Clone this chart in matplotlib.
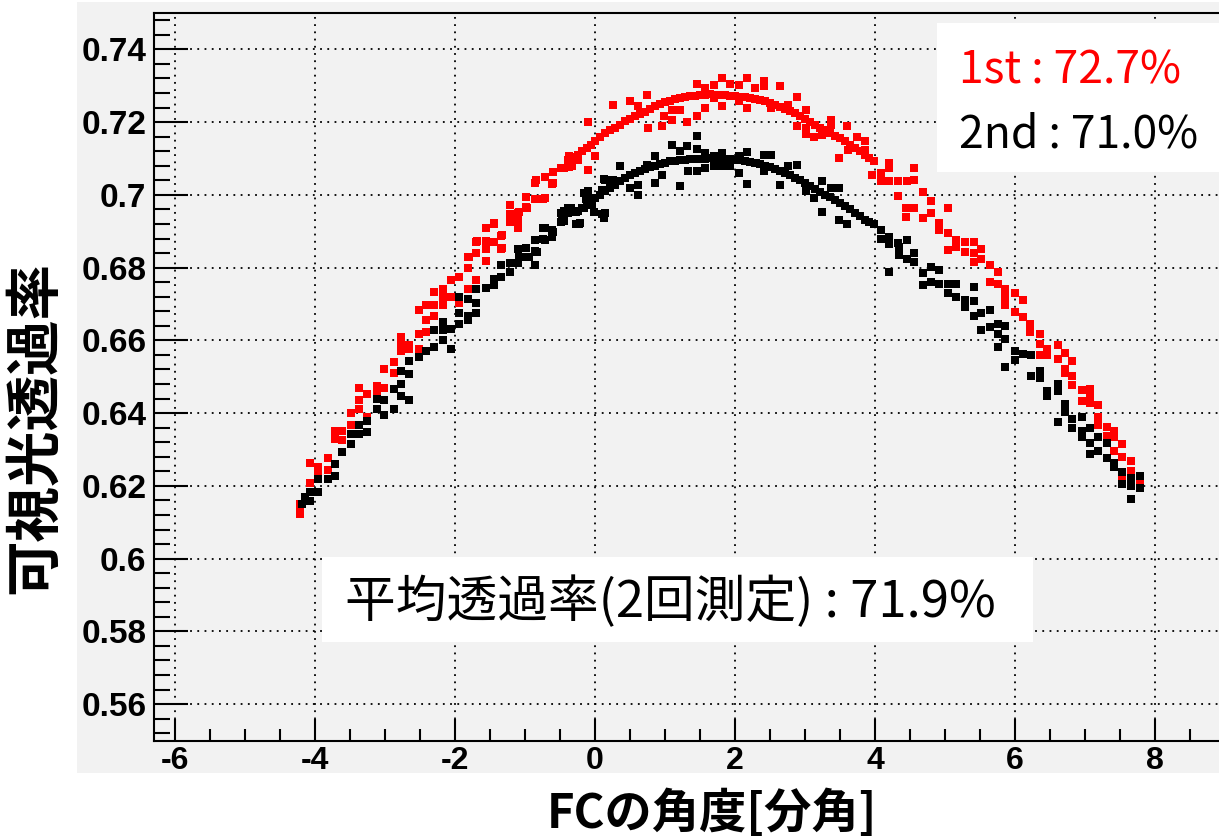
import matplotlib
matplotlib.use("Agg")
import matplotlib.pyplot as plt
from matplotlib.patches import Rectangle
from matplotlib.ticker import MultipleLocator, FixedLocator

# ---------------- data ----------------
# 1st measurement (red): (angle [arcmin], transmittance)
red_left = [
    (-4.21, 0.6151), (-4.21, 0.6144), (-4.21, 0.6123), (-4.07, 0.6263), (-4.07, 0.6209),
    (-3.96, 0.6251), (-3.96, 0.6232), (-3.82, 0.6276), (-3.82, 0.6243),
    (-3.72, 0.6352), (-3.72, 0.6329), (-3.61, 0.6352), (-3.61, 0.6326),
    (-3.48, 0.6400), (-3.48, 0.6368), (-3.37, 0.6469), (-3.37, 0.6437), (-3.37, 0.6411),
    (-3.26, 0.6453), (-3.26, 0.6390), (-3.12, 0.6474), (-3.12, 0.6457),
    (-3.01, 0.6469), (-3.01, 0.6522), (-2.87, 0.6540), (-2.87, 0.6510),
    (-2.77, 0.6609), (-2.77, 0.6591), (-2.77, 0.6570), (-2.66, 0.6586), (-2.66, 0.6575),
    (-2.52, 0.6618), (-2.52, 0.6575), (-2.52, 0.6683),
    (-2.41, 0.6623), (-2.41, 0.6655), (-2.41, 0.6697),
    (-2.30, 0.6697), (-2.30, 0.6733), (-2.30, 0.6666),
    (-2.17, 0.6740), (-2.17, 0.6718), (-2.17, 0.6697), (-2.06, 0.6766), (-2.06, 0.6718),
    (-1.95, 0.6775), (-1.95, 0.6703), (-1.81, 0.6830), (-1.81, 0.6798), (-1.81, 0.6740),
    (-1.70, 0.6871), (-1.70, 0.6841), (-1.70, 0.6766),
    (-1.56, 0.6908), (-1.56, 0.6850), (-1.56, 0.6819), (-1.45, 0.6920), (-1.45, 0.6871),
    (-1.35, 0.6887), (-1.35, 0.6850), (-1.22, 0.6972), (-1.22, 0.6947), (-1.22, 0.6926),
    (-1.10, 0.6951), (-1.10, 0.6931), (-1.10, 0.6908), (-0.99, 0.6994), (-0.99, 0.6968),
    (-0.86, 0.7032), (-0.86, 0.6988), (-0.74, 0.6988), (-0.61, 0.7030),
    (-0.37, 0.7106), (-0.37, 0.7078), (-0.25, 0.7110), (-0.25, 0.7096), (-0.49, 0.7073),
    (-0.60, 0.7064), (-0.60, 0.7032), (-0.72, 0.7050), (-0.72, 0.6991), (-0.84, 0.7041),
    (-0.97, 0.6963), (-1.09, 0.6954), (-1.21, 0.6945), (-1.33, 0.6890), (-1.33, 0.6853),
    (-1.44, 0.6922), (-1.56, 0.6872), (-1.69, 0.6872), (-1.80, 0.6830),
]
red_band = [
    (-0.38, 0.7097), (-0.31, 0.7104), (-0.24, 0.7110), (-0.18, 0.7120), (-0.12, 0.7129),
    (-0.06, 0.7138), (0.00, 0.7147), (0.07, 0.7159), (0.14, 0.7170), (0.21, 0.7177),
    (0.29, 0.7184), (0.36, 0.7193), (0.43, 0.7202), (0.50, 0.7209), (0.57, 0.7216),
    (0.64, 0.7222), (0.71, 0.7229), (0.78, 0.7236), (0.86, 0.7243), (0.93, 0.7249),
    (1.00, 0.7254), (1.07, 0.7259), (1.14, 0.7263), (1.21, 0.7267), (1.29, 0.7270),
    (1.36, 0.7271), (1.43, 0.7272), (1.50, 0.7274), (1.57, 0.7275), (1.64, 0.7276),
    (1.71, 0.7275), (1.78, 0.7275), (1.86, 0.7274), (1.93, 0.7273), (2.00, 0.7272),
    (2.07, 0.7270), (2.14, 0.7268), (2.21, 0.7266), (2.29, 0.7263), (2.36, 0.7260),
    (2.43, 0.7257), (2.50, 0.7252), (2.57, 0.7247), (2.64, 0.7242), (2.71, 0.7236),
    (2.78, 0.7231), (2.86, 0.7225), (2.93, 0.7217), (3.00, 0.7208), (3.07, 0.7201),
    (3.14, 0.7193), (3.21, 0.7185), (3.29, 0.7177), (3.36, 0.7170), (3.43, 0.7163),
    (3.50, 0.7155), (3.57, 0.7147), (3.64, 0.7138), (3.71, 0.7129), (3.78, 0.7120),
    (3.86, 0.7110), (3.92, 0.7101), (3.98, 0.7092),
]
red_scatter = [
    (-0.33, 0.7101), (-0.33, 0.7079), (-0.45, 0.7074), (-0.10, 0.7069), (-0.10, 0.7200),
    (0.00, 0.7106), (0.25, 0.7247), (0.50, 0.7257), (0.61, 0.7243), (0.74, 0.7275),
    (0.75, 0.7184), (0.95, 0.7188), (0.98, 0.7216), (1.10, 0.7206), (1.10, 0.7234),
    (1.21, 0.7234), (1.32, 0.7200), (1.45, 0.7305), (1.46, 0.7217), (1.57, 0.7293),
    (1.57, 0.7238), (1.70, 0.7302), (1.70, 0.7266), (1.81, 0.7320), (1.82, 0.7243),
    (1.93, 0.7305), (2.05, 0.7302), (2.05, 0.7257), (2.17, 0.7320), (2.17, 0.7238),
    (2.29, 0.7293), (2.41, 0.7314), (2.41, 0.7298), (2.52, 0.7238), (2.64, 0.7300),
    (2.76, 0.7247), (2.88, 0.7268), (2.88, 0.7190), (3.02, 0.7234), (3.02, 0.7184),
    (3.02, 0.7168), (3.13, 0.7158), (3.24, 0.7164), (3.37, 0.7206), (3.37, 0.7193),
    (3.49, 0.7101), (3.60, 0.7190), (3.61, 0.7124), (3.74, 0.7159), (3.85, 0.7147),
    (3.85, 0.7122), (3.95, 0.7056), (4.09, 0.7060), (4.20, 0.7088), (4.20, 0.7074),
    (4.09, 0.7037), (4.20, 0.7037), (4.33, 0.7037), (4.33, 0.6996),
]
red_right = [
    (3.95, 0.7055), (4.20, 0.7083), (4.45, 0.7037), (4.56, 0.7074), (4.56, 0.7041),
    (4.69, 0.7009), (4.44, 0.6963), (4.56, 0.6963), (4.44, 0.6940), (4.69, 0.6936),
    (4.80, 0.6982), (4.80, 0.6949), (4.91, 0.6922), (4.91, 0.6903), (5.04, 0.6963),
    (5.04, 0.6894), (5.04, 0.6848), (5.16, 0.6876), (5.16, 0.6857), (5.29, 0.6871),
    (5.29, 0.6844), (5.41, 0.6871), (5.41, 0.6841), (5.51, 0.6850), (5.41, 0.6816),
    (5.51, 0.6823), (5.64, 0.6807), (5.64, 0.6761), (5.75, 0.6789), (5.75, 0.6756),
    (5.86, 0.6740), (5.86, 0.6720), (5.86, 0.6697), (6.00, 0.6729), (6.00, 0.6678),
    (6.11, 0.6712), (6.12, 0.6664), (6.22, 0.6644), (6.22, 0.6623), (6.36, 0.6618),
    (6.36, 0.6591), (6.36, 0.6559), (6.46, 0.6577), (6.46, 0.6559), (6.61, 0.6586),
    (6.61, 0.6550), (6.71, 0.6565), (6.82, 0.6543), (6.71, 0.6522), (6.71, 0.6510),
    (6.82, 0.6501), (6.82, 0.6476), (6.95, 0.6464), (6.95, 0.6433), (7.07, 0.6467),
    (7.07, 0.6448), (7.07, 0.6427), (7.18, 0.6421), (7.18, 0.6390), (7.18, 0.6368),
    (7.31, 0.6361), (7.31, 0.6338), (7.42, 0.6350), (7.42, 0.6335), (7.42, 0.6295),
    (7.53, 0.6315), (7.53, 0.6280), (7.53, 0.6228), (7.66, 0.6269), (7.66, 0.6241),
    (7.78, 0.6223), (7.78, 0.6205),
]

# 2nd measurement (black)
black_left = [
    (-4.14, 0.6170), (-4.19, 0.6150), (-4.07, 0.6182), (-4.07, 0.6159), (-3.96, 0.6218),
    (-3.96, 0.6182), (-3.82, 0.6218), (-3.72, 0.6260), (-3.72, 0.6228), (-3.61, 0.6292),
    (-3.48, 0.6343), (-3.48, 0.6315), (-3.37, 0.6366), (-3.37, 0.6343), (-3.26, 0.6379),
    (-3.26, 0.6347), (-3.12, 0.6439), (-3.12, 0.6411), (-3.01, 0.6435), (-3.01, 0.6395),
    (-2.87, 0.6467), (-2.87, 0.6410), (-2.77, 0.6480), (-2.77, 0.6448), (-2.66, 0.6508),
    (-2.66, 0.6437), (-2.77, 0.6517), (-2.66, 0.6543), (-2.52, 0.6554), (-2.41, 0.6571),
    (-2.30, 0.6582), (-2.30, 0.6628), (-2.17, 0.6628), (-2.17, 0.6602), (-2.17, 0.6651),
    (-2.06, 0.6632), (-2.06, 0.6577), (-1.95, 0.6720), (-1.95, 0.6676), (-1.95, 0.6646),
    (-1.81, 0.6715), (-1.81, 0.6666), (-1.81, 0.6655), (-1.70, 0.6740), (-1.70, 0.6703),
    (-1.70, 0.6675), (-1.56, 0.6743), (-1.45, 0.6770), (-1.45, 0.6752), (-1.35, 0.6775),
    (-1.35, 0.6807), (-1.22, 0.6813), (-1.22, 0.6789), (-1.10, 0.6850), (-1.10, 0.6813),
    (-0.99, 0.6853), (-0.99, 0.6828), (-0.86, 0.6876), (-0.86, 0.6846), (-0.86, 0.6807),
    (-0.74, 0.6908), (-0.74, 0.6880), (-0.61, 0.6903), (-0.61, 0.6883), (-0.49, 0.6951),
    (-0.49, 0.6925), (-0.38, 0.6963), (-0.38, 0.6949), (-0.27, 0.6954), (-0.27, 0.6920),
    (-0.16, 0.6963), (-0.16, 0.7005), (-0.04, 0.6986), (-0.04, 0.6972), (0.10, 0.7014),
    (0.10, 0.6948), (-0.35, 0.6963), (-0.23, 0.6920), (-0.47, 0.6927), (-0.60, 0.6899),
    (-0.71, 0.6908), (-0.71, 0.6876), (-0.83, 0.6844), (-0.95, 0.6830), (-1.08, 0.6830),
    (-1.19, 0.6814), (0.13, 0.6936), (0.13, 0.7043), (-0.02, 0.6954), (-0.13, 0.6988),
    (-0.11, 0.7004),
]
black_band = [
    (-0.24, 0.6955), (-0.18, 0.6964), (-0.12, 0.6974), (-0.06, 0.6983), (0.00, 0.6992),
    (0.07, 0.7001), (0.14, 0.7010), (0.21, 0.7019), (0.29, 0.7028), (0.36, 0.7038),
    (0.43, 0.7047), (0.50, 0.7054), (0.57, 0.7060), (0.64, 0.7066), (0.71, 0.7071),
    (0.78, 0.7076), (0.86, 0.7080), (0.93, 0.7085), (1.00, 0.7089), (1.07, 0.7092),
    (1.14, 0.7094), (1.21, 0.7096), (1.29, 0.7097), (1.36, 0.7098), (1.43, 0.7099),
    (1.50, 0.7100), (1.57, 0.7100), (1.64, 0.7101), (1.71, 0.7100), (1.78, 0.7100),
    (1.86, 0.7099), (1.93, 0.7098), (2.00, 0.7097), (2.07, 0.7096), (2.14, 0.7094),
    (2.21, 0.7091), (2.29, 0.7088), (2.36, 0.7084), (2.43, 0.7080), (2.50, 0.7076),
    (2.57, 0.7071), (2.64, 0.7066), (2.71, 0.7060), (2.78, 0.7054), (2.86, 0.7047),
    (2.93, 0.7040), (3.00, 0.7033), (3.07, 0.7024), (3.14, 0.7015), (3.21, 0.7008),
    (3.29, 0.7001), (3.36, 0.6993), (3.43, 0.6985), (3.50, 0.6977), (3.57, 0.6969),
    (3.64, 0.6960), (3.71, 0.6951), (3.78, 0.6942), (3.86, 0.6932), (3.92, 0.6926),
    (3.98, 0.6919),
]
black_scatter = [
    (-0.45, 0.6955), (-0.45, 0.6928), (-0.36, 0.6964), (-0.21, 0.6923), (-0.10, 0.7010),
    (0.14, 0.6951), (0.14, 0.7042), (0.26, 0.7042), (0.36, 0.7079), (0.50, 0.7019),
    (0.62, 0.7028), (0.62, 0.7001), (0.74, 0.7083), (0.86, 0.7106), (0.86, 0.7033),
    (0.95, 0.7056), (1.10, 0.7138), (1.21, 0.7024), (1.21, 0.7120), (1.32, 0.7133),
    (1.33, 0.7065), (1.45, 0.7163), (1.45, 0.7126), (1.45, 0.7065), (1.57, 0.7115),
    (1.57, 0.7074), (1.70, 0.7106), (1.70, 0.7079), (1.81, 0.7115), (1.81, 0.7079),
    (1.93, 0.7080), (2.05, 0.7106), (2.05, 0.7060), (2.17, 0.7117), (2.17, 0.7031),
    (2.30, 0.7088), (2.41, 0.7109), (2.52, 0.7109), (2.41, 0.7065), (2.64, 0.7028),
    (2.76, 0.7079), (2.88, 0.7083), (3.02, 0.7010), (3.13, 0.6992), (3.24, 0.7037),
    (3.24, 0.6953), (3.37, 0.7019), (3.49, 0.7019), (3.49, 0.6932), (3.60, 0.6921),
]
black_right = [
    (4.09, 0.6903), (4.09, 0.6880), (4.20, 0.6885), (4.20, 0.6864), (4.20, 0.6788),
    (4.33, 0.6869), (4.34, 0.6857), (4.34, 0.6834), (4.45, 0.6876), (4.45, 0.6825),
    (4.56, 0.6839), (4.56, 0.6816), (4.69, 0.6784), (4.69, 0.6752), (4.80, 0.6802),
    (4.80, 0.6761), (4.91, 0.6793), (4.91, 0.6756), (5.04, 0.6756), (5.04, 0.6729),
    (5.16, 0.6756), (5.16, 0.6720), (5.29, 0.6710), (5.29, 0.6692), (5.41, 0.6747),
    (5.41, 0.6709), (5.41, 0.6666), (5.52, 0.6674), (5.52, 0.6629), (5.64, 0.6683),
    (5.64, 0.6637), (5.75, 0.6646), (5.75, 0.6618), (5.86, 0.6639), (5.86, 0.6605),
    (5.75, 0.6582), (5.86, 0.6528), (6.00, 0.6572), (6.00, 0.6545), (6.12, 0.6563),
    (6.23, 0.6559), (6.23, 0.6503), (6.36, 0.6517), (6.36, 0.6497), (6.46, 0.6462),
    (6.46, 0.6446), (6.61, 0.6479), (6.61, 0.6462), (6.61, 0.6375), (6.71, 0.6425),
    (6.71, 0.6402), (6.82, 0.6384), (6.82, 0.6359), (6.95, 0.6389), (6.95, 0.6350),
    (6.95, 0.6335), (7.07, 0.6359), (7.07, 0.6317), (7.07, 0.6289), (7.18, 0.6333),
    (7.18, 0.6296), (7.31, 0.6317), (7.31, 0.6276), (7.42, 0.6264), (7.42, 0.6251),
    (7.53, 0.6237), (7.53, 0.6205), (7.66, 0.6221), (7.66, 0.6200), (7.78, 0.6228),
    (7.78, 0.6195), (7.66, 0.6163),
]

x_ticks = [-6, -4, -2, 0, 2, 4, 6, 8]
x_ticklabels = ["-6", "-4", "-2", "0", "2", "4", "6", "8"]
y_ticks = [0.56, 0.58, 0.60, 0.62, 0.64, 0.66, 0.68, 0.70, 0.72, 0.74]
y_ticklabels = ["0.56", "0.58", "0.6", "0.62", "0.64", "0.66", "0.68", "0.7", "0.72", "0.74"]

x_label = "FCの角度[分角]"
y_label = "可視光透過率"
label_1st = "1st : 72.7%"
label_2nd = "2nd : 71.0%"
label_avg = "平均透過率(2回測定) : 71.9%"

# ---------------- figure ----------------
W, H = 1219, 839
fig = plt.figure(figsize=(W / 100, H / 100), dpi=100)
fig.patch.set_facecolor("white")

# grey ROOT-style pad
fig.add_artist(Rectangle((77 / W, 1 - 773 / H), (W - 77) / W, (773 - 2) / H,
                         transform=fig.transFigure, facecolor="#f2f2f2",
                         edgecolor="none", zorder=0))

ax = fig.add_axes([154 / W, 1 - 740.5 / H, (W - 154) / W, (740.5 - 13) / H])
ax.set_zorder(1)
ax.set_facecolor("#f2f2f2")
ax.set_xlim(-6.3, -6.3 + 1065 / 70)
ax.set_ylim(0.55, 0.75)


def split(pts):
    return [p[0] for p in pts], [p[1] for p in pts]


for pts in (red_left, red_band, red_scatter, red_right):
    xs, ys = split(pts)
    ax.plot(xs, ys, "s", color="#ff0000", ms=5.4, mew=0, zorder=3)
for pts in (black_left, black_band, black_scatter, black_right):
    xs, ys = split(pts)
    ax.plot(xs, ys, "s", color="black", ms=5.4, mew=0, zorder=4)

ax.xaxis.set_major_locator(FixedLocator(x_ticks))
ax.set_xticklabels(x_ticklabels)
ax.xaxis.set_minor_locator(MultipleLocator(0.5))
ax.yaxis.set_major_locator(FixedLocator(y_ticks))
ax.set_yticklabels(y_ticklabels)
ax.yaxis.set_minor_locator(MultipleLocator(0.004))

ax.grid(True, which="major", color="black", linestyle=(0, (1, 3)), linewidth=1.3)
ax.set_axisbelow(True)

ax.tick_params(axis="both", which="both", direction="in", width=1.5, color="black",
               top=False, right=False)
ax.tick_params(axis="y", which="major", length=24.5, pad=5.5)
ax.tick_params(axis="y", which="minor", length=11.5)
ax.tick_params(axis="x", which="major", length=16, pad=4)
ax.tick_params(axis="x", which="minor", length=8.5)

for lab in ax.get_yticklabels():
    lab.set_fontfamily("Liberation Sans")
    lab.set_fontweight("bold")
    lab.set_fontsize(24)
for lab in ax.get_xticklabels():
    lab.set_fontfamily("Liberation Sans")
    lab.set_fontweight("bold")
    lab.set_fontsize(23)

for side in ("left", "bottom", "top"):
    ax.spines[side].set_linewidth(1.5)
    ax.spines[side].set_color("black")
ax.spines["right"].set_visible(False)

cjk = ["Noto Sans CJK JP", "DejaVu Sans"]

fig.text(35 / W, 1 - 428 / H, y_label, rotation=90, ha="center", va="center",
         fontsize=40, fontweight="bold", family=cjk)
fig.text(712 / W, 1 - 814 / H, x_label, ha="center", va="center",
         fontsize=34, fontweight="bold", family=cjk)

# text boxes
fig.add_artist(Rectangle((937 / W, 1 - 172 / H), (W - 937) / W, (172 - 23) / H,
                         transform=fig.transFigure, facecolor="white",
                         edgecolor="none", zorder=5))
fig.text(959 / W, 1 - 83 / H, label_1st, color="#ff0000", ha="left", va="baseline",
         fontsize=32, family=cjk, zorder=6)
fig.text(959 / W, 1 - 147 / H, label_2nd, color="black", ha="left", va="baseline",
         fontsize=32, family=cjk, zorder=6)

fig.add_artist(Rectangle((322 / W, 1 - 642 / H), (1033 - 322) / W, (642 - 557) / H,
                         transform=fig.transFigure, facecolor="white",
                         edgecolor="none", zorder=5))
fig.text(345 / W, 1 - 617 / H, label_avg, color="black", ha="left", va="baseline",
         fontsize=36.5, family=cjk, zorder=6)

fig.savefig("out.png", dpi=100)
